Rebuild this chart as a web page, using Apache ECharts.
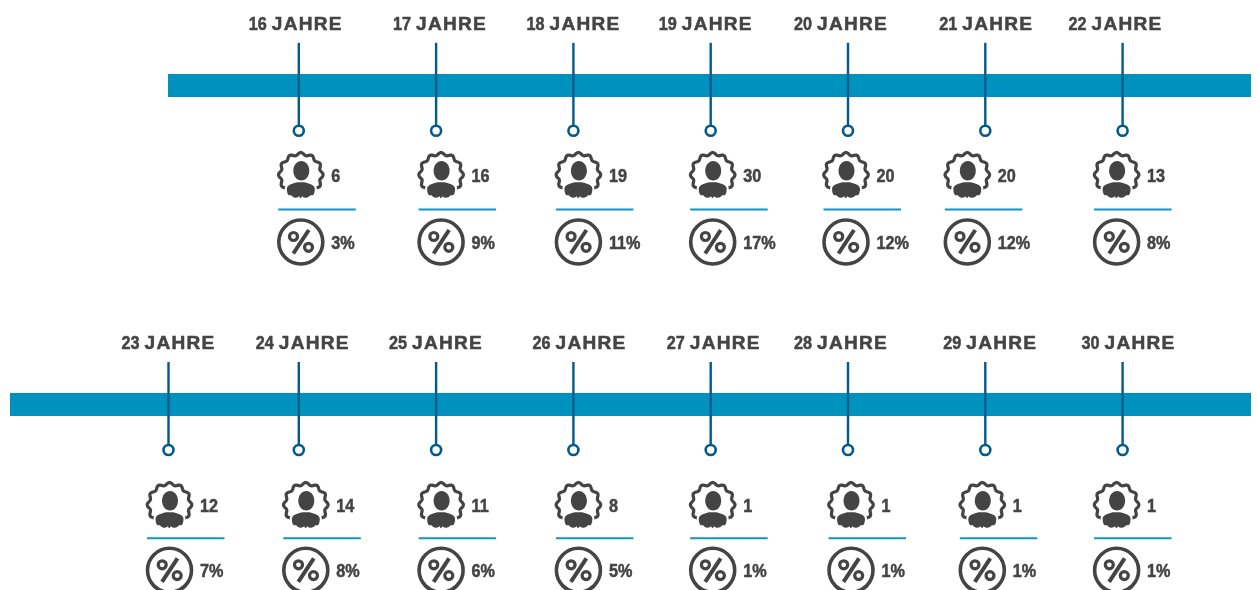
<!DOCTYPE html>
<html>
<head>
<meta charset="utf-8">
<style>
  html, body { margin: 0; padding: 0; background: #fff; }
  #chart { width: 1257px; height: 590px; }
</style>
<script src="https://cdn.jsdelivr.net/npm/echarts@6/dist/echarts.min.js"></script>
</head>
<body>
<div id="chart"></div>
<script>
// Values, top row
const agesTop = [16, 17, 18, 19, 20, 21, 22];
const countsTop = [6, 16, 19, 30, 20, 20, 13];
const sharesTop = [3, 9, 11, 17, 12, 12, 8];

// Values, bottom row
const agesBottom = [23, 24, 25, 26, 27, 28, 29, 30];
const countsBottom = [12, 14, 11, 8, 1, 1, 1, 1];
const sharesBottom = [7, 8, 6, 5, 1, 1, 1, 1];

// The original is hand placed, so each column gets a nudge relative to its stem
const labelNudgeTop = [-50, -43, -47, -52, -54, -46, -54];
const iconNudgeTop = [-21, -18, -18, -21, -25, -41, -29];
const labelNudgeBottom = [-47, -43, -47, -41, -44, -54, -42, -41];
const iconNudgeBottom = [-22, -16, -18, -18, -21, -20, -26, -29];
const stemNudgeBottom = [7, 0, 0, 0, 0, 0, 0, 0];

const INK = "#444444";
const BAND = "#0092bf";
const STEM = "#005a8c";
const RULE = "#0d96c6";
const YEAR_PX = 137.3;
const FIRST_STEM_PX = 298.8;
const LETTERS = [["J", 0], ["A", 12], ["H", 27], ["R", 42], ["E", 57]];

// Scalloped badge outline around (0, 0)
function badgePath(radius, bumps) {
  const pts = [];
  for (let i = 0; i < 144; i++) {
    const t = (i / 144) * Math.PI * 2;
    const r = radius + 1.3 * Math.cos(bumps * t);
    pts.push((r * Math.sin(t)).toFixed(2) + " " + (-r * Math.cos(t)).toFixed(2));
  }
  return "M" + pts.join("L") + "Z";
}
const BADGE = badgePath(21, 12);
const SHOULDERS = "M-15 14C-15 9 -9 8 -4 6.5L4 6.5C9 8 15 9 15 14C15 20 13 22 10 21.5C8 24.5 3 24.5 1.5 23C0 25 -1 25 -2 23C-4 24.5 -8 24.5 -10 21.5C-13 22 -15 20 -15 14Z";

function text(str, x, y, scaleX, heavy) {
  return {
    type: "text",
    x: x,
    y: y,
    scaleX: scaleX || 1,
    style: {
      text: str,
      x: 0,
      y: 0,
      fill: INK,
      stroke: INK,
      lineWidth: heavy,
      fontFamily: "Liberation Sans",
      fontSize: 18,
      fontWeight: "bold",
      align: "left",
      verticalAlign: "middle",
    },
  };
}

function ageLabel(age, left, y) {
  const parts = [text(String(age), left, y, 0.9, 0.5)];
  for (const [ch, dx] of LETTERS) parts.push(text(ch, left + 23 + dx, y, 1.06, 0.5));
  return parts;
}

function badgeIcon(cx, cy) {
  return {
    type: "group",
    x: cx,
    y: cy,
    children: [
      { type: "path", shape: { pathData: BADGE }, style: { fill: "none", stroke: INK, lineWidth: 3.2 } },
      { type: "path", shape: { pathData: SHOULDERS }, style: { fill: INK, stroke: "#fff", lineWidth: 2 } },
      { type: "ellipse", shape: { cx: 0.5, cy: -4, rx: 8, ry: 9.8 }, style: { fill: INK } },
    ],
  };
}

function percentIcon(cx, cy) {
  return {
    type: "group",
    x: cx,
    y: cy,
    children: [
      { type: "circle", shape: { cx: 0, cy: 0, r: 22 }, style: { fill: "#fff", stroke: INK, lineWidth: 3.6 } },
      { type: "circle", shape: { cx: -7.3, cy: -5.5, r: 4 }, style: { fill: "none", stroke: INK, lineWidth: 3.2 } },
      { type: "circle", shape: { cx: 7.7, cy: 5.3, r: 4 }, style: { fill: "none", stroke: INK, lineWidth: 3.2 } },
      { type: "line", shape: { x1: 8, y1: -12, x2: -7.5, y2: 11.5 }, style: { stroke: INK, lineWidth: 4 } },
    ],
  };
}

// badgeDy, ruleDy and percentDy are measured down from the band centre
function columnRenderer(badgeDy, ruleDy, percentDy) {
  return function (params, api) {
    const base = api.coord([api.value(0), 1]);
    const x = base[0] + api.value(5);
    const y = base[1];
    const left = x + api.value(4);
    return {
      type: "group",
      children: [
        ...ageLabel(api.value(0), x + api.value(3), y - 60),
        { type: "line", shape: { x1: x, y1: y - 42, x2: x, y2: y + 41 }, style: { stroke: STEM, lineWidth: 2.4 } },
        { type: "circle", shape: { cx: x, cy: y + 46, r: 5 }, style: { fill: "#fff", stroke: STEM, lineWidth: 2.6 } },
        badgeIcon(left + 23, y + badgeDy),
        text(String(api.value(1)), left + 53.5, y + badgeDy + 2, 0.9, 0.5),
        { type: "line", shape: { x1: left + 0.5, y1: y + ruleDy, x2: left + 78, y2: y + ruleDy }, style: { stroke: RULE, lineWidth: 2 } },
        percentIcon(left + 23, y + percentDy),
        text(api.value(2) + "%", left + 53.5, y + percentDy + 2, 0.9, 0.5),
      ],
    };
  };
}

function rows(ages, counts, shares, labelNudge, iconNudge, stemNudge) {
  return ages.map((age, i) => [age, counts[i], shares[i], labelNudge[i], iconNudge[i], stemNudge ? stemNudge[i] : 0]);
}

// Age axis whose axis line is the thick band; scale is fixed so the stems line up across both rows
function ageAxis(gridIndex, left, right, refAge) {
  const min = refAge - (FIRST_STEM_PX - left) / YEAR_PX;
  return {
    type: "value",
    gridIndex: gridIndex,
    position: "top",
    min: min,
    max: min + (right - left) / YEAR_PX,
    axisLine: { show: true, onZero: false, lineStyle: { color: BAND, width: 23, cap: "butt" } },
    axisTick: { show: false },
    axisLabel: { show: false },
    splitLine: { show: false },
  };
}

function unitAxis(gridIndex) {
  return { type: "value", gridIndex: gridIndex, min: 0, max: 1, show: false };
}

const chart = echarts.init(document.getElementById("chart"), null, { renderer: "canvas" });

chart.setOption({
  animation: false,
  backgroundColor: "#fff",
  grid: [
    { left: 168, width: 1083, top: 84.8, height: 150 },
    { left: 10, width: 1241, top: 404, height: 150 },
  ],
  xAxis: [ageAxis(0, 168, 1251, 16), ageAxis(1, 10, 1251, 24)],
  yAxis: [unitAxis(0), unitAxis(1)],
  series: [
    {
      type: "custom",
      xAxisIndex: 0,
      yAxisIndex: 0,
      clip: false,
      renderItem: columnRenderer(90, 124.7, 157.2),
      encode: { x: 0 },
      data: rows(agesTop, countsTop, sharesTop, labelNudgeTop, iconNudgeTop),
    },
    {
      type: "custom",
      xAxisIndex: 1,
      yAxisIndex: 1,
      clip: false,
      renderItem: columnRenderer(100.8, 134.3, 166.3),
      encode: { x: 0 },
      data: rows(agesBottom, countsBottom, sharesBottom, labelNudgeBottom, iconNudgeBottom, stemNudgeBottom),
    },
  ],
});

window.addEventListener("resize", () => chart.resize());
</script>
</body>
</html>
